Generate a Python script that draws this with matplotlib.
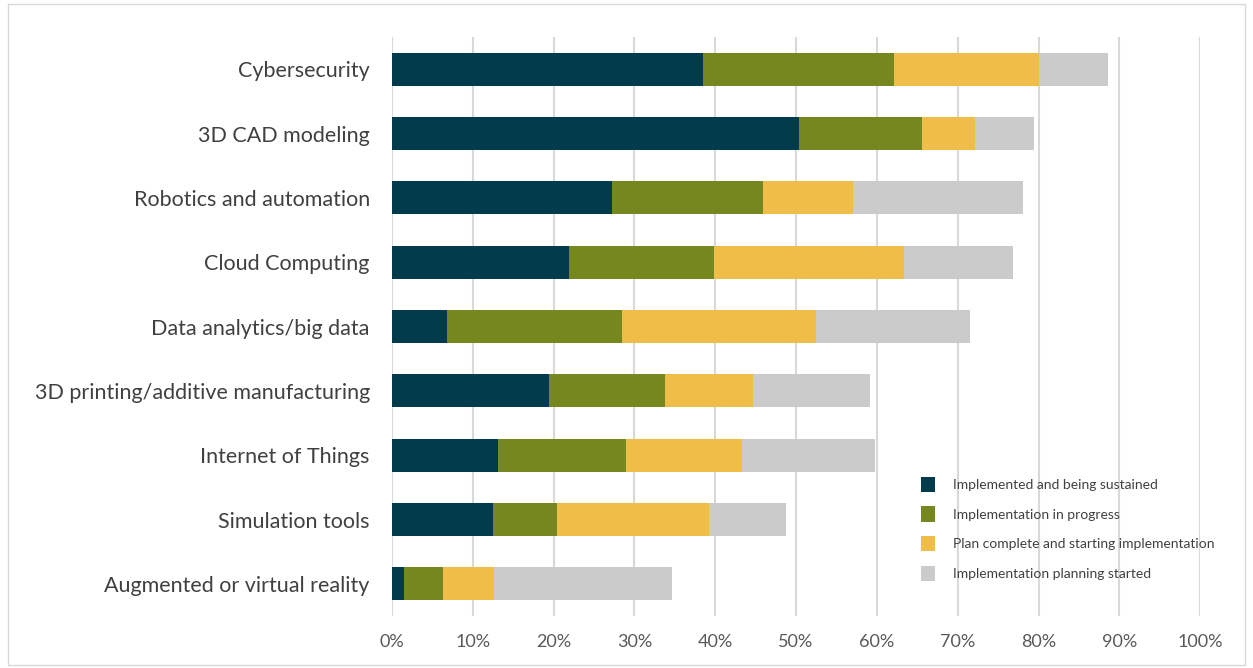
import matplotlib.pyplot as plt
from matplotlib.patches import Patch, Rectangle
import numpy as np

plt.rcParams['font.family'] = ['Lato', 'DejaVu Sans']

# categories top to bottom, shares in percent
categories = ["Cybersecurity", "3D CAD modeling", "Robotics and automation",
              "Cloud Computing", "Data analytics/big data",
              "3D printing/additive manufacturing", "Internet of Things",
              "Simulation tools", "Augmented or virtual reality"]
sustained = [38.5, 50.4, 27.2, 21.9, 6.8, 19.4, 13.1, 12.5, 1.5]
in_progress = [23.6, 15.2, 18.7, 17.9, 21.6, 14.4, 15.8, 7.9, 4.8]
plan_complete = [17.9, 6.5, 11.2, 23.6, 24.1, 10.9, 14.4, 18.8, 6.3]
planning_started = [8.6, 7.4, 21.0, 13.4, 19.0, 14.5, 16.5, 9.6, 22.1]

series_names = ["Implemented and being sustained", "Implementation in progress",
                "Plan complete and starting implementation",
                "Implementation planning started"]
colors = ["#023b4b", "#76871f", "#f0be48", "#cbcbcb"]

fig = plt.figure(figsize=(12.53, 6.68), dpi=100)
ax = fig.add_axes([0.3129, 0.0778, 0.6449, 0.8668])

y = np.arange(len(categories))
left = np.zeros(len(categories))
for vals, col in zip([sustained, in_progress, plan_complete, planning_started], colors):
    vals = np.array(vals)
    ax.barh(y, vals, left=left, height=0.51, color=col, zorder=3)
    left += vals

ax.set_xlim(0, 100)
ax.set_ylim(len(categories) - 0.5, -0.5)
ax.set_xticks(np.arange(0, 101, 10))
ax.set_xticklabels([f"{v}%" for v in range(0, 101, 10)])
ax.set_yticks(y)
ax.set_yticklabels(categories)
ax.tick_params(axis='x', length=0, pad=13, labelsize=13, labelcolor="#595959")
ax.tick_params(axis='y', length=0, pad=16, labelsize=15.5, labelcolor="#404040")
ax.grid(axis='x', color="#d9d9d9", lw=1.5, zorder=0)
for s in ax.spines.values():
    s.set_visible(False)

handles = [Patch(facecolor=c, edgecolor='none') for c in colors]
fig.legend(handles, series_names, loc='upper left', bbox_to_anchor=(0.725, 0.305),
           frameon=False, fontsize=10, labelcolor="#404040", handlelength=1.0,
           handleheight=1.3, handletextpad=1.3, labelspacing=1.05)

# thin frame around the whole chart
fig.patches.append(Rectangle((0.006, 0.004), 0.988, 0.99, transform=fig.transFigure,
                             fill=False, edgecolor="#d9d9d9", lw=1))

fig.savefig("out.png", dpi=100)
